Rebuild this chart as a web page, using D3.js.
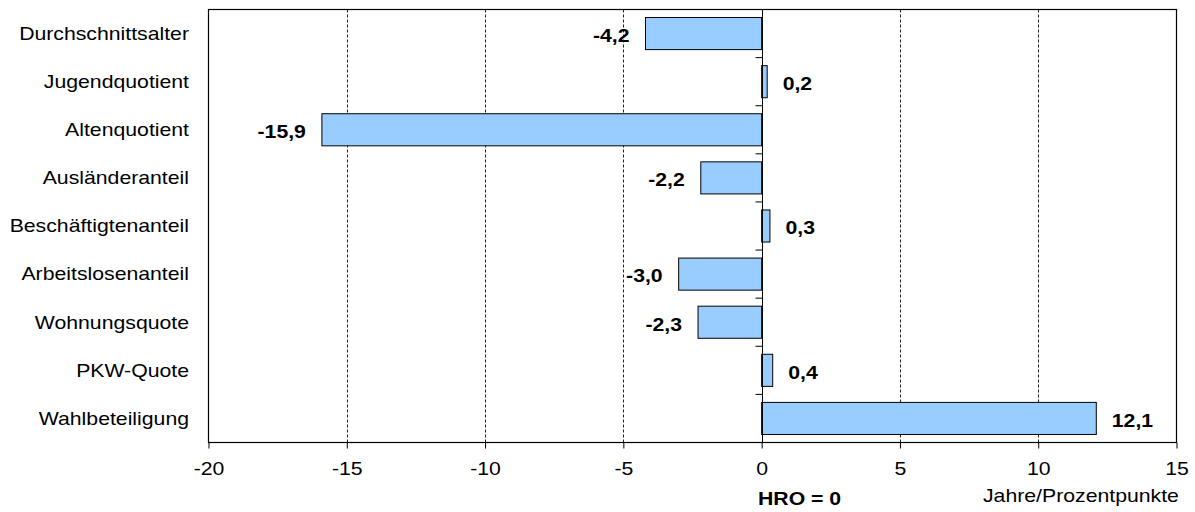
<!DOCTYPE html>
<html><head><meta charset="utf-8">
<script src="https://cdn.jsdelivr.net/npm/d3@7"></script>
<style>body{margin:0;background:#fff;} text{font-family:"Liberation Sans",Arial,sans-serif;}</style>
</head><body><svg id="c" width="1195" height="512"></svg>
<script>
const categories = ["Durchschnittsalter","Jugendquotient","Altenquotient","Ausländeranteil","Beschäftigtenanteil","Arbeitslosenanteil","Wohnungsquote","PKW-Quote","Wahlbeteiligung"];
const values = [-4.2, 0.2, -15.9, -2.2, 0.3, -3.0, -2.3, 0.4, 12.1];
const tickValues = [-20,-15,-10,-5,0,5,10,15];

const FS = 18, SX = 1.18;
const svg = d3.select("#c");
const m = {l:208.5, r:1176.5, t:9.5, b:442.5};
const x = d3.scaleLinear().domain([-20,15]).range([m.l, m.r]);
const y = d3.scaleBand().domain(categories).range([m.t, m.b]).paddingInner(0.333).paddingOuter(0.1665);
const fmt = v => d3.format(".1f")(v).replace(".", ",").replace("\u2212", "-");
const tf = (px, py) => `translate(${px},${py}) scale(${SX},1)`;

// grid
svg.append("g").selectAll("line").data(tickValues.filter(t => t!==0 && t!==-20 && t!==15)).join("line")
  .attr("x1", d=>Math.round(x(d))+0.5).attr("x2", d=>Math.round(x(d))+0.5)
  .attr("y1", m.t).attr("y2", m.b)
  .attr("stroke", "#222").attr("stroke-width", 1).attr("stroke-dasharray", "3,2");

// bars
svg.append("g").selectAll("rect").data(values).join("rect")
  .attr("x", d => x(Math.min(0,d)))
  .attr("y", (d,i) => y(categories[i]))
  .attr("width", d => Math.abs(x(d)-x(0)))
  .attr("height", y.bandwidth())
  .attr("fill", "#99CCFF").attr("stroke", "#000").attr("stroke-width", 1);

// frame
svg.append("rect").attr("x", m.l).attr("y", m.t).attr("width", m.r-m.l).attr("height", m.b-m.t)
  .attr("fill", "none").attr("stroke", "#000").attr("stroke-width", 1.2);

// zero axis with category ticks
const zx = Math.round(x(0))+0.5;
svg.append("line").attr("x1", zx).attr("x2", zx).attr("y1", m.t).attr("y2", m.b).attr("stroke","#000").attr("stroke-width",1);
svg.append("g").selectAll("line").data(d3.range(1, categories.length)).join("line")
  .attr("x1", zx-7).attr("x2", zx)
  .attr("y1", d => m.t + d*(m.b-m.t)/categories.length).attr("y2", d => m.t + d*(m.b-m.t)/categories.length)
  .attr("stroke","#000");

// x axis
const xa = d3.axisBottom(x).tickValues(tickValues).tickSize(6).tickPadding(8).tickFormat(d => String(d));
const gx = svg.append("g").attr("transform", `translate(0,${m.b})`).call(xa);
gx.select(".domain").remove();
gx.selectAll("line").attr("stroke","#000");
gx.selectAll("text").attr("font-size", FS).attr("fill","#000")
  .attr("font-family","Liberation Sans, Arial, sans-serif")
  .attr("y", 0).attr("dy", null).attr("transform", tf(0, 475 - m.b));

// category labels
svg.append("g").selectAll("text").data(categories).join("text")
  .attr("transform", d => tf(189, y(d)+y.bandwidth()/2)).attr("dy","0.35em")
  .attr("text-anchor","end").attr("font-size",FS).attr("fill","#000").text(d=>d);

// value labels
svg.append("g").selectAll("text").data(values).join("text")
  .attr("transform", (d,i) => tf(d<0 ? x(d)-16 : x(d)+15.5, y(categories[i])+y.bandwidth()/2+2)).attr("dy","0.35em")
  .attr("text-anchor", d => d<0 ? "end" : "start")
  .attr("font-size",FS).attr("font-weight","bold").attr("fill","#000").text(d => fmt(d));

svg.append("text").attr("transform", tf(758, 505)).attr("text-anchor","start")
  .attr("font-size",FS).attr("font-weight","bold").text("HRO = 0");
svg.append("text").attr("transform", tf(983, 502)).attr("text-anchor","start")
  .attr("font-size",FS).text("Jahre/Prozentpunkte");
</script></body></html>
